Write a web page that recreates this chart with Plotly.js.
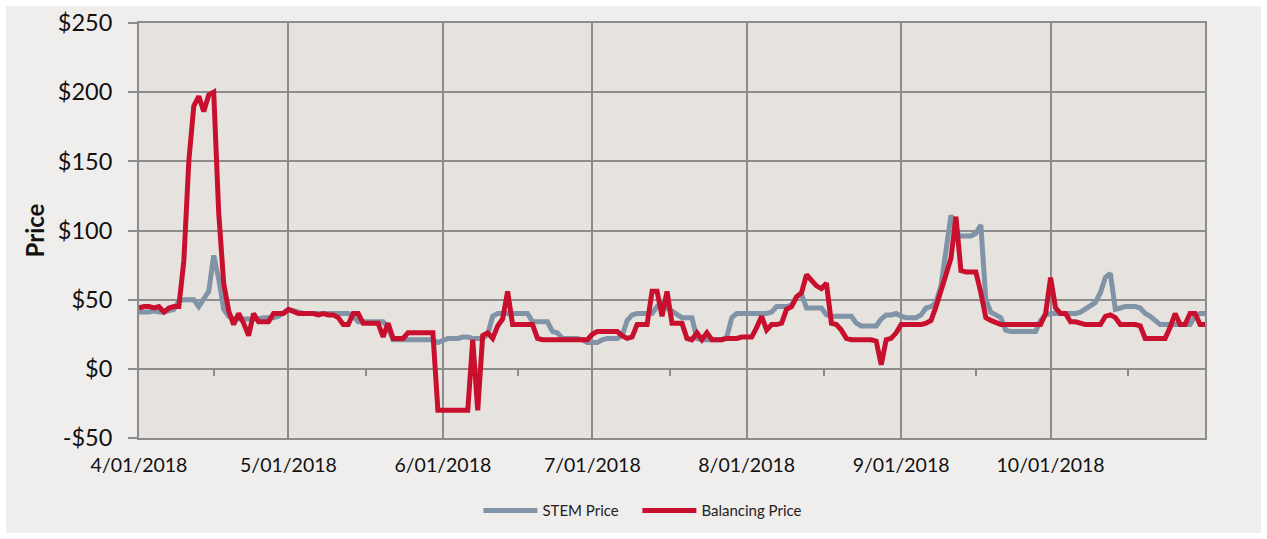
<!DOCTYPE html>
<html>
<head>
<meta charset="utf-8">
<script src="https://cdn.plot.ly/plotly-3.0.1.min.js"></script>
<style>
html,body{margin:0;padding:0;background:#ffffff;overflow:hidden;}
#chart{position:absolute;left:6px;top:6px;width:1255px;height:527px;}
</style>
</head>
<body>
<div id="chart"></div>
<script>
// ---- data (daily, starting 2018-04-01) ----
const startDate = '2018-04-01';

const balancingApr = [44,45,45,44,45,41,44,45,45,78,150,190,197,186,198,200,113,62,42,32,40,33,24,40,34,34,34,40,40,40];
const balancingMay = [43,41,40,40,40,40,39,40,39,39,37,32,32,40,40,33,33,33,33,23,33,22,22,22,26,26,26,26,26,26,-30];
const balancingJun = [-30,-30,-30,-30,-30,-30,21,-30,24,26,22,31,36,56,32,32,32,32,32,22,21,21,21,21,21,21,21,21,21,21];
const balancingJul = [25,27,27,27,27,27,24,22,23,32,32,32,56,56,38,56,33,33,33,22,21,26,21,26,21,21,21,22,22,22,23];
const balancingAug = [23,23,30,38,28,32,32,33,43,45,52,55,68,64,60,58,62,33,32,28,22,21,21,21,21,21,20,3,21,22,26];
const balancingSep = [32,32,32,32,32,33,35,45,58,68,80,110,71,70,70,70,55,37,35,33,32,32,32,32,32,32,32,32,32,40];
const balancingOct = [66,44,40,40,34,34,33,32,32,32,32,38,39,37,32,32,32,32,31,22,22,22,22,22,30,40,32,32,40,40,32];
const balancingNov = [32];

const stemApr = [41,41,41,42,41,41,42,43,49,50,50,50,45,50,56,82,65,43,38,36,36,36,36,36,36,37,37,37,38,41];
const stemMay = [43,42,41,40,40,40,40,40,40,40,40,40,40,38,34,34,34,34,34,34,30,21,21,21,21,21,21,21,21,21,19];
const stemJun = [21,22,22,22,23,23,22,22,22,25,38,40,40,40,40,40,40,40,34,34,34,34,27,26,22,22,22,22,21,19];
const stemJul = [19,19,21,22,22,22,24,35,39,40,40,40,40,45,48,44,42,40,37,37,37,22,21,21,21,21,21,23,37,40,40];
const stemAug = [40,40,40,40,40,41,45,45,45,46,52,54,44,44,44,44,39,38,38,38,38,38,33,31,31,31,31,36,39,39,40];
const stemSep = [38,37,37,37,39,44,45,48,60,86,111,98,96,96,96,98,104,50,41,39,37,28,27,27,27,27,27,27,35,39];
const stemOct = [40,40,40,40,40,40,41,43,45,48,55,66,69,43,44,45,45,45,44,40,38,35,32,32,32,32,32,32,32,38,40];
const stemNov = [40];

const seriesNames = ['STEM Price', 'Balancing Price'];

const monthTickDates = ['2018-04-01','2018-05-01','2018-06-01','2018-07-01','2018-08-01','2018-09-01','2018-10-01'];
const monthTickLabels = ['4/01/2018','5/01/2018','6/01/2018','7/01/2018','8/01/2018','9/01/2018','10/01/2018'];
const midMonthTicks = ['2018-04-16','2018-05-16 12:00','2018-06-16','2018-07-16 12:00','2018-08-16 12:00','2018-09-16','2018-10-16 12:00'];

const priceTickVals = [-50,0,50,100,150,200,250];
const priceTickLabels = ['-$50','$0','$50','$100','$150','$200','$250'];

// ---- build ----
const balancing = [].concat(balancingApr,balancingMay,balancingJun,balancingJul,balancingAug,balancingSep,balancingOct,balancingNov);
const stem = [].concat(stemApr,stemMay,stemJun,stemJul,stemAug,stemSep,stemOct,stemNov);

function dailyDates(start, n){
  const out = [];
  const t0 = new Date(start + 'T00:00:00Z').getTime();
  for (let i = 0; i < n; i++) out.push(new Date(t0 + i*86400000).toISOString().slice(0,10));
  return out;
}
const dates = dailyDates(startDate, stem.length);

const FONT = 'Lato, "Open Sans", sans-serif';
const GRID = '#8C8C8C';

const traces = [
  {x: dates, y: stem, name: seriesNames[0], type: 'scatter', mode: 'lines',
   xaxis: 'x', yaxis: 'y', legend: 'legend',
   line: {color: '#8193A6', width: 5}, hoverinfo: 'skip'},
  {x: dates, y: balancing, name: seriesNames[1], type: 'scatter', mode: 'lines',
   xaxis: 'x2', yaxis: 'y', legend: 'legend2',
   line: {color: '#C8102E', width: 5}, hoverinfo: 'skip'}
];

const xRange = ['2018-04-01', '2018-11-01'];

const legendBase = {orientation: 'h', xref: 'container', yref: 'container',
  xanchor: 'left', y: 0.042, yanchor: 'middle',
  font: {family: FONT, size: 15, color: '#222222'}, itemwidth: 54,
  bgcolor: 'rgba(0,0,0,0)'};

const layout = {
  width: 1255, height: 527,
  margin: {l: 133, r: 56, t: 17, b: 95, pad: 0, autoexpand: false},
  paper_bgcolor: '#EFEEEC',
  plot_bgcolor: '#E6E3DF',
  font: {family: FONT, color: '#111111'},
  showlegend: true,
  legend: Object.assign({}, legendBase, {x: 0.3764}),
  legend2: Object.assign({}, legendBase, {x: 0.5031}),
  xaxis: {type: 'date', range: xRange, tickmode: 'array', tickvals: monthTickDates, ticktext: monthTickLabels,
          showgrid: true, gridcolor: GRID, gridwidth: 2, showline: true, linecolor: GRID, linewidth: 2,
          mirror: true, ticks: '', tickfont: {family: FONT, size: 19.5, color: '#111111'},
          ticklabelstandoff: 9, zeroline: false, fixedrange: true},
  xaxis2: {type: 'date', range: xRange, overlaying: 'x', anchor: 'free', position: 1/6,
           tickmode: 'array', tickvals: midMonthTicks, ticks: 'outside', ticklen: 6, tickwidth: 2,
           tickcolor: GRID, showticklabels: false, showgrid: false, showline: false, zeroline: false,
           fixedrange: true},
  yaxis: {range: [-50, 250], tickmode: 'array', tickvals: priceTickVals, ticktext: priceTickLabels,
          showgrid: true, gridcolor: GRID, gridwidth: 2, showline: true, linecolor: GRID, linewidth: 2,
          mirror: true, ticks: 'outside', ticklen: 9, tickwidth: 2, tickcolor: GRID,
          tickfont: {family: FONT, size: 23.5, color: '#111111'}, ticklabelstandoff: 11,
          zeroline: false, fixedrange: true,
          title: {text: '<b>Price</b>', font: {family: FONT, size: 24, color: '#111111'}, standoff: 6}}
};

Plotly.newPlot('chart', traces, layout, {staticPlot: true, displayModeBar: false});
</script>
</body>
</html>
